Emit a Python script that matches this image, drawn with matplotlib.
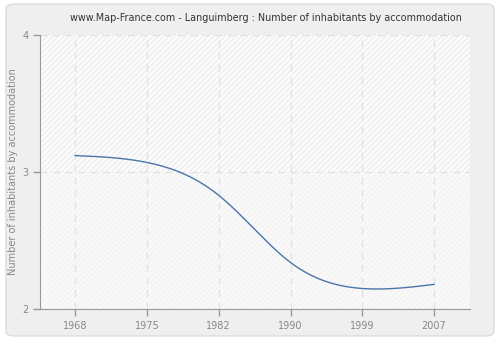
#!/usr/bin/env python

import numpy as np
import matplotlib
matplotlib.use('Agg')
import matplotlib.pyplot as plt
from matplotlib.patches import FancyBboxPatch

years = ['1968', '1975', '1982', '1990', '1999', '2007']
values = [3.12, 3.07, 2.83, 2.34, 2.15, 2.18]
y_ticks = [2, 3, 4]
title = 'www.Map-France.com - Languimberg : Number of inhabitants by accommodation'
y_label = 'Number of inhabitants by accommodation'


def natural_spline(x, y, xs):
    x = np.asarray(x, float)
    y = np.asarray(y, float)
    n = len(x)
    h = np.diff(x)
    A = np.zeros((n, n))
    b = np.zeros(n)
    A[0, 0] = A[-1, -1] = 1
    for i in range(1, n - 1):
        A[i, i - 1] = h[i - 1]
        A[i, i] = 2 * (h[i - 1] + h[i])
        A[i, i + 1] = h[i]
        b[i] = 3 * ((y[i + 1] - y[i]) / h[i] - (y[i] - y[i - 1]) / h[i - 1])
    c = np.linalg.solve(A, b)
    idx = np.clip(np.searchsorted(x, xs) - 1, 0, n - 2)
    dx = xs - x[idx]
    bb = (y[idx + 1] - y[idx]) / h[idx] - h[idx] * (2 * c[idx] + c[idx + 1]) / 3
    d = (c[idx + 1] - c[idx]) / (3 * h[idx])
    return y[idx] + bb * dx + c[idx] * dx ** 2 + d * dx ** 3


fig = plt.figure(figsize=(5, 3.4), dpi=100)
fig.patch.set_facecolor('white')
panel = FancyBboxPatch((0.012, 0.012), 0.976, 0.976,
                       boxstyle='round,pad=0,rounding_size=0.015',
                       transform=fig.transFigure, facecolor='#efefef',
                       edgecolor='#dddddd', linewidth=1.0, zorder=-10)
fig.patches.append(panel)

ax = fig.add_axes([0.08, 0.091, 0.86, 0.806])
ax.set_zorder(1)
ax.set_facecolor('#fdfdfd')
ax.axhspan(3, 4, facecolor='#fcfcfc', hatch='//////', edgecolor='#eeeeee',
           linewidth=0, zorder=0)
ax.axhspan(2, 3, facecolor='#f9f9f9', hatch='//////', edgecolor='#f3f3f3',
           linewidth=0, zorder=0)

pos = np.arange(len(years))
xs = np.linspace(pos[0], pos[-1], 400)
ax.plot(xs, natural_spline(pos, values, xs), color='#4a75a8', lw=1.0, zorder=3)

ax.set_xlim(-0.49, len(years) - 0.5)
ax.set_ylim(2, 4)
ax.set_xticks(pos)
ax.set_xticklabels(years)
ax.set_yticks(y_ticks)
ax.grid(True, color='#e2e2e2', linestyle=(0, (5, 4)), linewidth=1.0, zorder=1)
ax.set_axisbelow(True)

for s in ['top', 'right']:
    ax.spines[s].set_visible(False)
for s in ['left', 'bottom']:
    ax.spines[s].set_color('#999999')
ax.tick_params(colors='#999999', labelcolor='#888888', labelsize=7,
               length=5, width=1)
ax.set_ylabel(y_label, color='#888888', fontsize=7)
ax.yaxis.set_label_coords(-0.052, 0.5)
fig.text(0.532, 0.948, title, ha='center', va='center', fontsize=6.9,
         color='#333333')

plt.savefig('out.png', dpi=100, facecolor=fig.get_facecolor())
